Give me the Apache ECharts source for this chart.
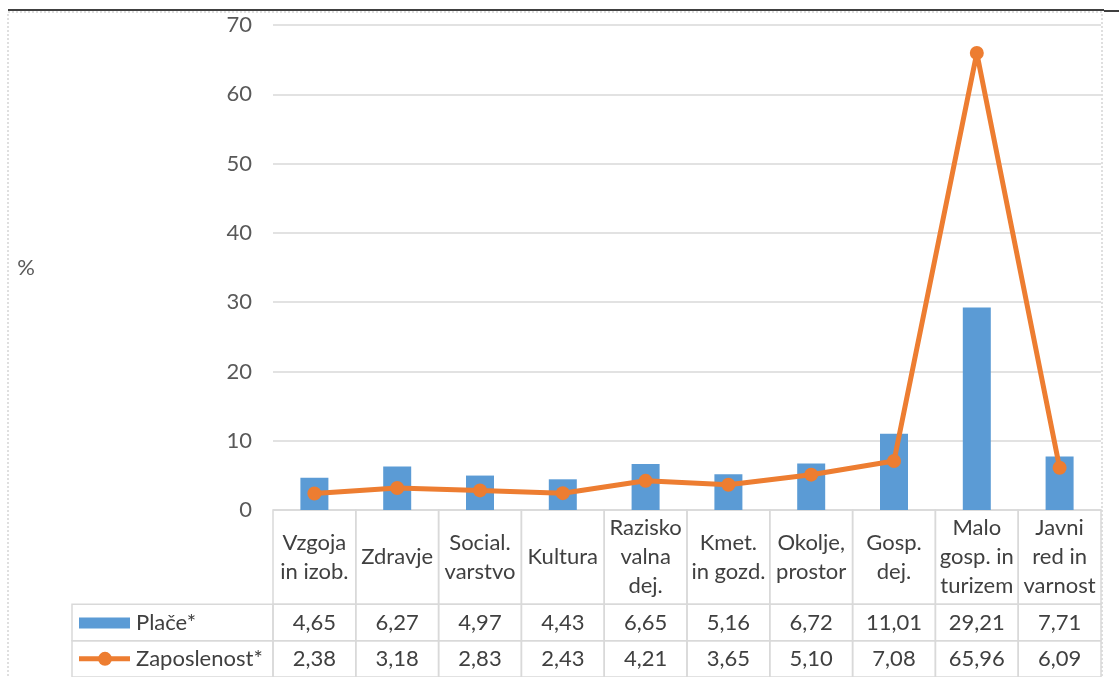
<!DOCTYPE html>
<html>
<head>
<meta charset="utf-8">
<script src="https://cdn.jsdelivr.net/npm/echarts@6/dist/echarts.min.js"></script>
<style>
html,body{margin:0;padding:0;background:#fff;}
#c{width:1119px;height:677px;}
</style>
</head>
<body>
<div id="c"></div>
<script>
var categories = ['Vzgoja\nin izob.', 'Zdravje', 'Social.\nvarstvo', 'Kultura', 'Razisko\nvalna\ndej.', 'Kmet.\nin gozd.', 'Okolje,\nprostor', 'Gosp.\ndej.', 'Malo\ngosp. in\nturizem', 'Javni\nred in\nvarnost'];
var placeValues = [4.65, 6.27, 4.97, 4.43, 6.65, 5.16, 6.72, 11.01, 29.21, 7.71];
var zaposlenostValues = [2.38, 3.18, 2.83, 2.43, 4.21, 3.65, 5.10, 7.08, 65.96, 6.09];
var seriesNames = ['Plače*', 'Zaposlenost*'];
var yTicks = [0, 10, 20, 30, 40, 50, 60, 70];

var BLUE = '#5B9BD5', ORANGE = '#ED7D31', GRID = '#D9D9D9', TXT = '#404040';
var FONT = 'Lato, "Open Sans", sans-serif';
var FS = 22;

function fmt(v){ return v.toFixed(2).replace('.', ','); }

var chart = echarts.init(document.getElementById('c'), null, {renderer:'canvas'});

// row boundaries (in table-axis units == pixels)
var ROWS = [0, 96, 133, 170];
var LEGEND_W = 201;

function renderTable(params, api){
  var i = api.value(0);
  var c = api.coord([i, 0]);
  var w = api.size([1, 0])[0];
  var x0 = c[0] - w/2;
  var ys = ROWS.map(function(r){ return api.coord([i, r])[1]; });
  var children = [];
  var ls = {fill:'none', stroke:GRID, lineWidth:1.5};
  for (var r = 0; r < 3; r++) {
    children.push({type:'rect', shape:{x:x0, y:ys[r], width:w, height:ys[r+1]-ys[r]}, style:ls, z2:1});
  }
  var cy = function(r){ return (ys[r] + ys[r+1]) / 2; };
  children.push({type:'text', style:{text:categories[i], x:c[0], y:cy(0), align:'center', verticalAlign:'middle', fontSize:FS, fontFamily:FONT, fill:TXT, lineHeight:29}, z2:2});
  children.push({type:'text', style:{text:fmt(placeValues[i]), x:c[0], y:cy(1), align:'center', verticalAlign:'middle', fontSize:FS, fontFamily:FONT, fill:TXT}, z2:2});
  children.push({type:'text', style:{text:fmt(zaposlenostValues[i]), x:c[0], y:cy(2), align:'center', verticalAlign:'middle', fontSize:FS, fontFamily:FONT, fill:TXT}, z2:2});
  if (i === 0) {
    var lx = x0 - LEGEND_W;
    for (var r2 = 1; r2 < 3; r2++) {
      children.push({type:'rect', shape:{x:lx, y:ys[r2], width:LEGEND_W, height:ys[r2+1]-ys[r2]}, style:ls, z2:1});
    }
    // legend keys
    children.push({type:'rect', shape:{x:lx+7, y:cy(1)-5, width:51, height:11}, style:{fill:BLUE}, z2:2});
    children.push({type:'line', shape:{x1:lx+7, y1:cy(2), x2:lx+58, y2:cy(2)}, style:{stroke:ORANGE, lineWidth:5}, z2:2});
    children.push({type:'circle', shape:{cx:lx+33, cy:cy(2), r:7}, style:{fill:ORANGE}, z2:3});
    children.push({type:'text', style:{text:seriesNames[0], x:lx+64, y:cy(1), align:'left', verticalAlign:'middle', fontSize:FS, fontFamily:FONT, fill:TXT}, z2:2});
    children.push({type:'text', style:{text:seriesNames[1], x:lx+64, y:cy(2), align:'left', verticalAlign:'middle', fontSize:FS, fontFamily:FONT, fill:TXT}, z2:2});
  }
  return {type:'group', children:children};
}

var option = {
  backgroundColor:'#fff',
  animation:false,
  textStyle:{fontFamily:FONT},
  graphic:[
    {type:'line', shape:{x1:8, y1:10, x2:1104, y2:10}, style:{stroke:'#000', lineWidth:1.5}},
    {type:'line', shape:{x1:1104, y1:11, x2:1119, y2:11}, style:{stroke:'#000', lineWidth:1.5}},
    {type:'rect', shape:{x:8, y:12, width:1094, height:700}, style:{fill:'none', stroke:'#BFBFBF', lineWidth:1, lineDash:[2,2]}, silent:true}
  ],
  grid:[
    {left:273, right:18, top:25, bottom:167, containLabel:false},
    {left:273, right:18, top:510, height:170, containLabel:false}
  ],
  xAxis:[
    {type:'category', gridIndex:0, data:categories, boundaryGap:true,
     axisLine:{show:false}, axisTick:{show:false}, axisLabel:{show:false}, splitLine:{show:false}},
    {type:'category', gridIndex:1, data:categories, boundaryGap:true,
     axisLine:{show:false}, axisTick:{show:false}, axisLabel:{show:false}, splitLine:{show:false}}
  ],
  yAxis:[
    {type:'value', gridIndex:0, min:yTicks[0], max:yTicks[yTicks.length-1], interval:10,
     name:'%', nameLocation:'middle', nameRotate:0, nameGap:238,
     nameTextStyle:{fontSize:FS, color:'#595959', fontFamily:FONT},
     axisLine:{show:false}, axisTick:{show:false},
     axisLabel:{fontSize:FS, color:'#595959', fontFamily:FONT, margin:21},
     splitLine:{lineStyle:{color:GRID, width:1.5}}},
    {type:'value', gridIndex:1, min:0, max:170, inverse:true, show:false, splitLine:{show:false}}
  ],
  series:[
    {name:seriesNames[0], type:'bar', xAxisIndex:0, yAxisIndex:0, data:placeValues, barWidth:28,
     itemStyle:{color:BLUE}, z:2},
    {name:seriesNames[1], type:'line', xAxisIndex:0, yAxisIndex:0, data:zaposlenostValues,
     symbol:'circle', symbolSize:14, lineStyle:{color:ORANGE, width:5}, itemStyle:{color:ORANGE}, z:3},
    {type:'custom', xAxisIndex:1, yAxisIndex:1, clip:false, renderItem:renderTable,
     data:categories.map(function(c, i){ return [i]; }), z:1}
  ]
};
chart.setOption(option);
</script>
</body>
</html>
